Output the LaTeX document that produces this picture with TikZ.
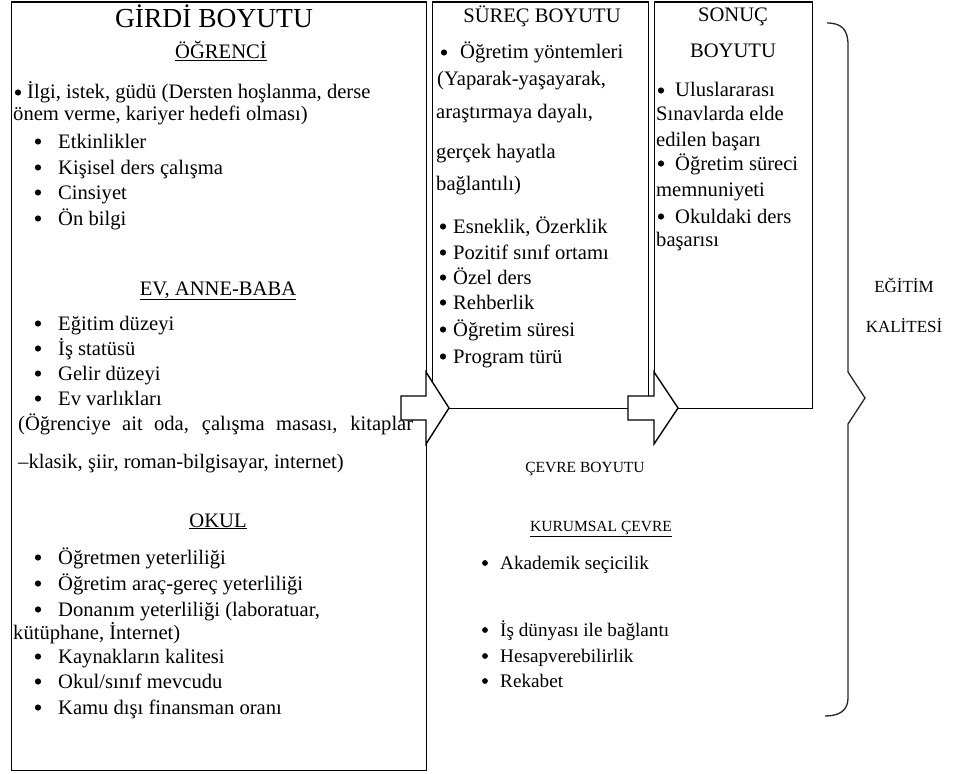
\documentclass[tikz,border=0pt]{standalone}
\usepackage{fontspec}
\setmainfont{Liberation Serif}
\newcommand{\bl}[2]{\fill[black] (#1,#2-6.5) circle (3.1);}
\newcommand{\bls}[2]{\fill[black] (#1,#2-6) circle (2.9);}
\begin{document}
\begin{tikzpicture}[x=1pt,y=-1pt,
  box/.style={draw=black,line width=1.4pt,inner sep=0pt,anchor=north west},
  txt/.style={anchor=base west,inner sep=0pt,font=\fontsize{20.6}{24}\selectfont},
  ctr/.style={anchor=base,inner sep=0pt,font=\fontsize{20.6}{24}\selectfont},
  stxt/.style={anchor=base west,inner sep=0pt,font=\fontsize{19.2}{23}\selectfont},
  sctr/.style={anchor=base,inner sep=0pt,font=\fontsize{15.5}{19}\selectfont},
  blockarrow/.style={draw=black,fill=white,line width=1.4pt,line join=miter},
  bracestyle/.style={draw=black!85,line width=1.3pt}]
\useasboundingbox (0,0) rectangle (965,773);
% boxes
\node[box,minimum width=415pt,minimum height=768.5pt] (girdi) at (11,1.5) {};
\node[box,minimum width=216pt,minimum height=406.5pt] (surec) at (432,1.5) {};
\node[box,minimum width=158pt,minimum height=406.5pt] (sonuc) at (654,1.5) {};
% block arrows
\coordinate (a1) at (449,408);
\coordinate (a2) at (678,408);
\draw[blockarrow] (401,396) -- (426,396) -- (426,372) -- (a1) -- (426,444) -- (426,420) -- (401,420) -- cycle;
\draw[blockarrow] (628,396) -- (654,396) -- (654,372) -- (a2) -- (654,444) -- (654,420) -- (628,420) -- cycle;
% brace
\coordinate (bt) at (827,23);
\coordinate (bp) at (865,398);
\coordinate (bb) at (825,716);
\draw[bracestyle] (bt) .. controls (842,23) and (848,30) .. (848,45) -- (848,372) -- (bp) -- (848,424) -- (848,698) .. controls (848,710) and (840,716) .. (bb);
% GIRDI
\node[ctr,font=\fontsize{27.5}{30}\selectfont] (g0) at (214,28) {GİRDİ BOYUTU};
\node[ctr] (g1) at (221,59) {\underline{ÖĞRENCİ}};
\bl{18}{99}
\node[txt] (g2) at (27,99) {İlgi, istek, güdü (Dersten hoşlanma, derse};
\node[txt] (g3) at (13,121) {önem verme, kariyer hedefi olması)};
\bl{38}{148}
\node[txt] (g4) at (58,148) {Etkinlikler};
\bl{38}{174}
\node[txt] (g5) at (58,174) {Kişisel ders çalışma};
\bl{38}{199}
\node[txt] (g6) at (58,199) {Cinsiyet};
\bl{38}{225}
\node[txt] (g7) at (58,225) {Ön bilgi};
\node[ctr] (g8) at (218,295) {\underline{EV, ANNE-BABA}};
\bl{38}{330}
\node[txt] (g9) at (58,330) {Eğitim düzeyi};
\bl{38}{355}
\node[txt] (g10) at (58,355) {İş statüsü};
\bl{38}{380}
\node[txt] (g11) at (58,380) {Gelir düzeyi};
\bl{38}{405}
\node[txt] (g12) at (58,405) {Ev varlıkları};
\node[txt] (g13) at (18,430) {\makebox[395pt][s]{(Öğrenciye ait oda, çalışma masası, kitaplar}};
\node[txt] (g14) at (18,468) {–klasik, şiir, roman-bilgisayar, internet)};
\node[ctr] (g15) at (218,527) {\underline{OKUL}};
\bl{38}{564}
\node[txt] (g16) at (58,564) {Öğretmen yeterliliği};
\bl{38}{590}
\node[txt] (g17) at (58,590) {Öğretim araç-gereç yeterliliği};
\bl{38}{616}
\node[txt] (g18) at (58,616) {Donanım yeterliliği (laboratuar,};
\node[txt] (g19) at (13,639) {kütüphane, İnternet)};
\bl{38}{663}
\node[txt] (g20) at (58,663) {Kaynakların kalitesi};
\bl{38}{688}
\node[txt] (g21) at (58,688) {Okul/sınıf mevcudu};
\bl{38}{714}
\node[txt] (g22) at (58,714) {Kamu dışı finansman oranı};
% SUREC
\node[ctr] (s0) at (542,23) {SÜREÇ BOYUTU};
\bl{444}{59}
\node[txt] (s1) at (460,59) {Öğretim yöntemleri};
\node[txt] (s2) at (437,86) {(Yaparak-yaşayarak,};
\node[txt] (s3) at (436,118) {araştırmaya dayalı,};
\node[txt] (s4) at (436,158) {gerçek hayatla};
\node[txt] (s5) at (436,190) {bağlantılı)};
\bl{443}{233}
\node[txt] (s6) at (453,233) {Esneklik, Özerklik};
\bl{443}{259}
\node[txt] (s7) at (453,259) {Pozitif sınıf ortamı};
\bl{443}{284}
\node[txt] (s8) at (453,284) {Özel ders};
\bl{443}{309}
\node[txt] (s9) at (453,309) {Rehberlik};
\bl{443}{336}
\node[txt] (s10) at (453,336) {Öğretim süresi};
\bl{443}{363}
\node[txt] (s11) at (453,363) {Program türü};
% SONUC
\node[ctr] (r0) at (733,22) {SONUÇ};
\node[ctr] (r1) at (733,58) {BOYUTU};
\bl{661}{97}
\node[txt] (r2) at (675,97) {Uluslararası};
\node[txt] (r3) at (656,121) {Sınavlarda elde};
\node[txt] (r4) at (656,146) {edilen başarı};
\bl{661}{170}
\node[txt] (r5) at (675,170) {Öğretim süreci};
\node[txt] (r6) at (656,196) {memnuniyeti};
\bl{661}{223}
\node[txt] (r7) at (675,223) {Okuldaki ders};
\node[txt] (r8) at (656,246) {başarısı};
% CEVRE
\node[sctr] (c0) at (585,472) {ÇEVRE BOYUTU};
\node[sctr] (c1) at (601,531) {\underline{KURUMSAL ÇEVRE}};
\bls{485}{569}
\node[stxt] (c2) at (500,569) {Akademik seçicilik};
\bls{485}{636}
\node[stxt] (c3) at (500,636) {İş dünyası ile bağlantı};
\bls{485}{662}
\node[stxt] (c4) at (500,662) {Hesapverebilirlik};
\bls{485}{687}
\node[stxt] (c5) at (500,687) {Rekabet};
% EGITIM KALITESI
\node[ctr,font=\fontsize{17}{21}\selectfont] (e0) at (904,292) {EĞİTİM};
\node[ctr,font=\fontsize{17}{21}\selectfont] (e1) at (904,332) {KALİTESİ};
\end{tikzpicture}
\end{document}
